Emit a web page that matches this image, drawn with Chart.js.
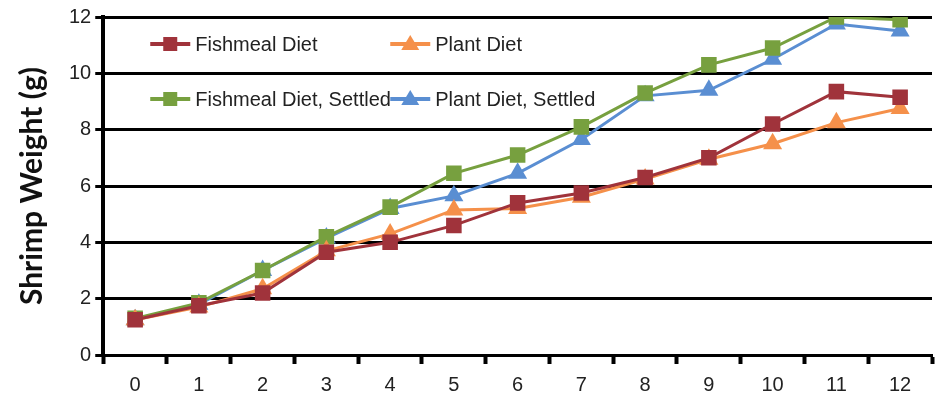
<!DOCTYPE html>
<html>
<head>
    <title>Shrimp Weight</title>
    <script src="https://cdn.jsdelivr.net/npm/chart.js"></script>
    <style>
        html, body { margin: 0; padding: 0; background: #fff; }
        .chart-container { width: 943px; height: 397px; }
    </style>
</head>
<body>
    <div class="chart-container">
        <canvas id="shrimpChart"></canvas>
    </div>

    <script>
        const weeks = ['0', '1', '2', '3', '4', '5', '6', '7', '8', '9', '10', '11', '12'];

        const fishmeal = [1.25, 1.75, 2.2, 3.65, 4.0, 4.6, 5.4, 5.75, 6.3, 7.0, 8.2, 9.35, 9.15];
        const plant = [1.25, 1.7, 2.35, 3.7, 4.3, 5.15, 5.2, 5.6, 6.25, 6.95, 7.5, 8.25, 8.75];
        const fishmealSettled = [1.3, 1.85, 3.0, 4.2, 5.25, 6.45, 7.1, 8.1, 9.3, 10.3, 10.9, 12.0, 11.9];
        const plantSettled = [1.25, 1.8, 3.0, 4.15, 5.2, 5.65, 6.45, 7.65, 9.2, 9.4, 10.5, 11.75, 11.5];

        const FONT = "'Liberation Sans', Arial, sans-serif";

        function series(label, data, color, style) {
            return {
                label: label,
                data: data,
                borderColor: color,
                backgroundColor: color,
                borderWidth: 3,
                pointStyle: style,
                pointRadius: 11,
                pointHoverRadius: 11,
                pointBorderWidth: 0,
                tension: 0
            };
        }

        // legend drawn inside the plot, two rows by two columns
        const insideLegend = {
            id: 'insideLegend',
            afterDraw(chart) {
                const ctx = chart.ctx;
                const area = chart.chartArea;
                const cols = [47, 287];
                const rows = [27, 82];
                ctx.save();
                ctx.font = '20px ' + FONT;
                ctx.textBaseline = 'middle';
                chart.data.datasets.forEach((ds, i) => {
                    const x = area.left + cols[i % 2];
                    const y = area.top + rows[Math.floor(i / 2)];
                    ctx.strokeStyle = ds.borderColor;
                    ctx.lineWidth = 4;
                    ctx.beginPath();
                    ctx.moveTo(x, y);
                    ctx.lineTo(x + 40, y);
                    ctx.stroke();
                    ctx.fillStyle = ds.backgroundColor;
                    ctx.beginPath();
                    if (ds.pointStyle === 'rect') {
                        ctx.rect(x + 13, y - 7, 14, 14);
                    } else {
                        ctx.moveTo(x + 20, y - 9);
                        ctx.lineTo(x + 29, y + 6);
                        ctx.lineTo(x + 11, y + 6);
                        ctx.closePath();
                    }
                    ctx.fill();
                    ctx.fillStyle = '#222';
                    ctx.fillText(ds.label, x + 45, y + 1);
                });
                ctx.restore();
            }
        };

        new Chart(document.getElementById('shrimpChart'), {
            type: 'line',
            data: {
                labels: weeks,
                datasets: [
                    series('Fishmeal Diet', fishmeal, '#a0333b', 'rect'),
                    series('Plant Diet', plant, '#f5904a', 'triangle'),
                    series('Fishmeal Diet, Settled', fishmealSettled, '#77a03f', 'rect'),
                    series('Plant Diet, Settled', plantSettled, '#5a8ed2', 'triangle')
                ]
            },
            options: {
                responsive: true,
                maintainAspectRatio: false,
                animation: false,
                layout: { padding: { top: 17, right: 0, left: 14, bottom: 0 } },
                plugins: {
                    legend: { display: false },
                    tooltip: { enabled: false }
                },
                scales: {
                    x: {
                        offset: true,
                        afterFit(scale) { scale.height = 42; },
                        grid: {
                            offset: true,
                            drawOnChartArea: false,
                            drawTicks: true,
                            tickLength: 9,
                            tickWidth: 4,
                            tickColor: '#000'
                        },
                        border: { color: '#000', width: 3 },
                        ticks: {
                            color: '#222',
                            padding: 9,
                            font: { size: 20, family: FONT }
                        }
                    },
                    y: {
                        min: 0,
                        max: 12,
                        ticks: {
                            stepSize: 2,
                            color: '#222',
                            padding: 4,
                            font: { size: 20, family: FONT }
                        },
                        grid: {
                            color: '#000',
                            lineWidth: 3,
                            tickLength: 8,
                            tickColor: '#000'
                        },
                        border: { color: '#000', width: 4 },
                        title: {
                            display: true,
                            text: 'Shrimp Weight (g)',
                            color: '#111',
                            padding: { top: 0, bottom: 15 },
                            font: { size: 30, weight: 'bold', family: "Lato, 'Open Sans', sans-serif" }
                        }
                    }
                }
            },
            plugins: [insideLegend]
        });
    </script>
</body>
</html>
